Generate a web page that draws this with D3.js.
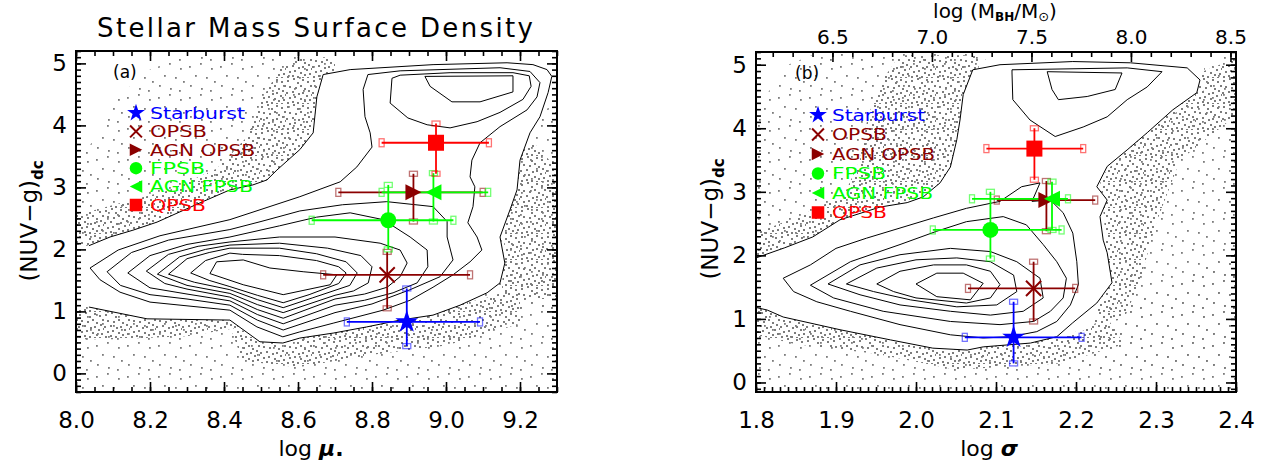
<!DOCTYPE html>
<html>
<head>
<meta charset="utf-8">
<script src="https://cdnjs.cloudflare.com/ajax/libs/d3/7.8.5/d3.min.js"></script>
<style>
  body { margin: 0; background: #fff; }
  text { font-family: "DejaVu Sans", sans-serif; }
</style>
</head>
<body>
<script>
const WIDTH = 1264, HEIGHT = 464;
const FONT = '"DejaVu Sans", sans-serif';

// ---- tick labels ----
const muTicks = [8.0, 8.2, 8.4, 8.6, 8.8, 9.0, 9.2];
const colourTicks = [0, 1, 2, 3, 4, 5];
const sigmaTicks = [1.8, 1.9, 2.0, 2.1, 2.2, 2.3, 2.4];
const mbhTicks = [6.5, 7.0, 7.5, 8.0, 8.5];

// ---- classes ----
const classes = ['Starburst', 'OPSB', 'AGN OPSB', 'FPSB', 'AGN FPSB', 'QPSB'];
const classColors = ['#0000ff', '#8b0000', '#8b0000', '#00ff00', '#00ff00', '#ff0000'];
const classSymbols = ['star', 'cross', 'triR', 'circle', 'triL', 'square'];

// ---- panel (a): log mu* vs (NUV-g)dc ----
const muVal = [8.894, 8.841, 8.912, 8.844, 8.966, 8.973];
const muLo  = [8.732, 8.668, 8.709, 8.637, 8.826, 8.826];
const muHi  = [9.092, 9.065, 9.099, 9.020, 9.114, 9.116];
const colA   = [0.83, 1.59, 2.92, 2.47, 2.92, 3.72];
const colALo = [0.44, 1.05, 2.45, 2.00, 2.45, 3.22];
const colAHi = [1.37, 1.96, 3.22, 3.04, 3.23, 4.03];

// ---- panel (b): log sigma vs (NUV-g)dc ----
const sigVal = [2.122, 2.147, 2.163, 2.093, 2.170, 2.148];
const sigLo  = [2.061, 2.065, 2.101, 2.021, 2.070, 2.088];
const sigHi  = [2.207, 2.199, 2.224, 2.182, 2.190, 2.209];
const colB   = [0.71, 1.48, 2.87, 2.40, 2.89, 3.68];
const colBLo = [0.30, 0.96, 2.38, 1.95, 2.40, 3.19];
const colBHi = [1.27, 1.90, 3.17, 3.00, 3.16, 4.00];

// contours of the parent sample, first one is the outermost (open at left edge)
const contourA = [
  [[8.035,2.06],[8.092,2.20],[8.154,2.31],[8.219,2.44],[8.335,2.75],[8.416,2.96],[8.478,3.04],[8.516,3.12],[8.543,3.28],[8.605,3.61],[8.641,3.88],[8.651,4.46],[8.668,4.82],[8.741,4.90],[8.965,4.98],[9.165,5.01],[9.235,4.98],[9.273,4.90],[9.286,4.79],[9.276,4.53],[9.254,4.14],[9.227,3.88],[9.200,3.44],[9.192,2.96],[9.173,2.64],[9.146,2.20],[9.159,1.78],[9.146,1.46],[9.111,1.30],[9.038,1.10],[8.965,0.94],[8.876,0.86],[8.786,0.75],[8.695,0.65],[8.605,0.57],[8.559,0.49],[8.497,0.51],[8.416,0.86],[8.192,0.88],[8.035,1.07]],
  [[8.038,1.70],[8.114,1.99],[8.227,2.22],[8.416,2.48],[8.605,2.85],[8.714,3.09],[8.759,3.33],[8.800,3.65],[8.795,3.88],[8.781,4.14],[8.776,4.58],[8.789,4.82],[8.876,4.88],[9.146,4.93],[9.227,4.87],[9.254,4.69],[9.246,4.46],[9.219,4.25],[9.146,3.98],[9.092,3.72],[9.070,3.44],[9.065,3.17],[9.078,3.01],[9.073,2.69],[9.059,2.43],[9.084,2.20],[9.097,1.99],[9.065,1.80],[9.019,1.59],[8.965,1.39],[8.903,1.18],[8.830,1.02],[8.695,0.81],[8.605,0.67],[8.559,0.59],[8.489,0.75],[8.416,1.02],[8.200,1.15],[8.119,1.31],[8.065,1.51]],
  [[8.854,4.76],[8.849,4.36],[8.897,4.12],[8.949,4.01],[9.011,3.96],[9.084,4.06],[9.146,4.21],[9.208,4.42],[9.230,4.63],[9.225,4.80],[9.181,4.85],[9.011,4.85],[8.876,4.81]],
  [[8.943,4.79],[8.957,4.63],[9.016,4.38],[9.092,4.38],[9.181,4.54],[9.181,4.80]],
  [[8.084,1.64],[8.15,1.95],[8.25,2.15],[8.416,2.32],[8.5,2.45],[8.605,2.62],[8.72,2.72],[8.84,2.77],[8.965,2.69],[9.003,2.45],[9.003,2.20],[9.019,1.83],[8.984,1.56],[8.903,1.35],[8.80,1.12],[8.70,0.98],[8.56,0.70],[8.49,0.86],[8.416,1.10],[8.3,1.20],[8.2,1.27],[8.12,1.42]],
  [[8.14,1.62],[8.2,1.9],[8.3,2.08],[8.416,2.20],[8.55,2.38],[8.65,2.52],[8.741,2.59],[8.83,2.48],[8.903,2.20],[8.949,1.99],[8.951,1.72],[8.922,1.46],[8.857,1.30],[8.78,1.18],[8.70,1.10],[8.56,0.80],[8.49,0.95],[8.416,1.17],[8.3,1.28],[8.2,1.38]],
  [[8.19,1.65],[8.25,1.92],[8.33,2.05],[8.416,2.12],[8.55,2.20],[8.70,2.20],[8.822,2.10],[8.876,1.99],[8.895,1.78],[8.876,1.56],[8.841,1.39],[8.78,1.28],[8.70,1.20],[8.56,0.89],[8.49,1.03],[8.416,1.23],[8.3,1.36],[8.24,1.45]],
  [[8.22,1.60],[8.28,1.88],[8.35,2.0],[8.416,2.07],[8.55,2.10],[8.68,2.02],[8.77,1.90],[8.80,1.72],[8.79,1.46],[8.75,1.33],[8.70,1.26],[8.56,0.98],[8.49,1.11],[8.416,1.29],[8.3,1.42]],
  [[8.25,1.60],[8.3,1.85],[8.36,1.95],[8.416,2.02],[8.55,2.02],[8.65,1.93],[8.73,1.80],[8.76,1.62],[8.74,1.42],[8.64,1.22],[8.56,1.06],[8.49,1.19],[8.416,1.35],[8.32,1.47]],
  [[8.31,1.62],[8.35,1.82],[8.416,1.94],[8.45,1.92],[8.55,1.90],[8.65,1.82],[8.71,1.72],[8.73,1.62],[8.71,1.45],[8.63,1.27],[8.56,1.14],[8.49,1.26],[8.416,1.40],[8.36,1.50]],
  [[8.362,1.61],[8.380,1.80],[8.452,1.83],[8.524,1.70],[8.614,1.64],[8.705,1.59],[8.687,1.43],[8.56,1.27],[8.452,1.43]]
];

const contourB = [
  [[1.80,1.96],[1.836,2.12],[1.871,2.29],[1.905,2.56],[1.955,2.76],[1.989,2.83],[2.009,2.92],[2.03,3.14],[2.043,3.39],[2.051,3.82],[2.055,4.13],[2.059,4.53],[2.071,4.92],[2.105,5.0],[2.196,5.05],[2.268,5.03],[2.339,4.95],[2.355,4.76],[2.351,4.56],[2.321,4.29],[2.289,3.93],[2.264,3.66],[2.239,3.40],[2.226,3.08],[2.239,2.87],[2.23,2.61],[2.234,2.24],[2.239,2.04],[2.245,1.57],[2.226,1.25],[2.196,0.94],[2.176,0.72],[2.143,0.62],[2.084,0.56],[2.064,0.51],[2.021,0.54],[1.968,0.67],[1.905,0.83],[1.834,1.03],[1.814,1.14],[1.80,1.18]],
  [[1.834,1.64],[1.868,1.85],[1.90,2.11],[1.938,2.27],[1.98,2.43],[2.022,2.59],[2.063,2.74],[2.105,2.85],[2.132,3.08],[2.155,3.14],[2.145,2.85],[2.168,2.87],[2.184,2.67],[2.196,2.35],[2.201,1.90],[2.203,1.54],[2.193,1.22],[2.176,0.96],[2.151,0.80],[2.118,0.72],[2.084,0.70],[2.043,0.75],[1.98,0.91],[1.918,1.12],[1.876,1.27],[1.847,1.43]],
  [[1.868,1.53],[1.918,1.90],[1.98,2.17],[2.026,2.38],[2.063,2.53],[2.109,2.61],[2.138,2.48],[2.159,2.17],[2.176,1.90],[2.188,1.64],[2.184,1.33],[2.168,1.12],[2.147,0.96],[2.105,0.91],[2.043,0.96],[1.959,1.12],[1.897,1.33]],
  [[1.890,1.55],[1.930,1.85],[1.98,2.01],[2.043,2.11],[2.093,2.06],[2.126,1.90],[2.155,1.64],[2.159,1.33],[2.134,1.12],[2.093,1.06],[2.043,1.12],[1.98,1.22],[1.93,1.38]],
  [[1.913,1.55],[1.951,1.80],[2.0,1.93],[2.051,1.96],[2.093,1.90],[2.122,1.69],[2.126,1.43],[2.101,1.22],[2.051,1.19],[1.993,1.30],[1.947,1.43]],
  [[1.951,1.55],[1.98,1.75],[2.022,1.85],[2.063,1.85],[2.093,1.75],[2.105,1.54],[2.093,1.33],[2.063,1.25],[2.0,1.33],[1.972,1.43]],
  [[2.0,1.55],[2.026,1.72],[2.059,1.72],[2.084,1.56],[2.068,1.30],[2.026,1.35]],
  [[2.12,4.87],[2.121,4.45],[2.1425,4.13],[2.174,3.87],[2.209,4.02],[2.239,4.18],[2.264,4.45],[2.289,4.65],[2.3075,4.89],[2.264,4.95],[2.12,4.92]],
  [[2.164,4.89],[2.17,4.61],[2.178,4.45],[2.214,4.50],[2.249,4.61],[2.2575,4.87]]
];

// regions covered by individual galaxies outside the outer contour
const sparseA = [
  [[8.0,2.0],[8.0,3.3],[8.06,3.9],[8.12,4.5],[8.2,4.9],[8.3,5.12],[8.66,5.12],[8.7,4.9],[8.5,2.8],[8.2,2.3]],
  [[8.0,-0.3],[8.0,1.3],[8.4,1.1],[8.7,0.8],[9.0,1.1],[9.15,1.5],[9.3,1.6],[9.3,-0.3]],
  [[9.12,1.0],[9.15,3.0],[9.2,3.8],[9.26,4.2],[9.3,4.4],[9.3,1.0]]
];
const denseA = [
  [[8.0,2.0],[8.0,2.55],[8.12,2.75],[8.25,2.95],[8.38,3.3],[8.46,3.8],[8.5,4.4],[8.55,4.9],[8.6,5.1],[8.7,5.1],[8.7,3.0],[8.4,2.7],[8.15,2.2]],
  [[8.0,0.55],[8.0,1.2],[8.45,1.05],[8.45,0.75],[8.3,0.6],[8.1,0.55]],
  [[8.45,0.2],[8.42,0.7],[8.6,0.65],[8.9,0.95],[9.1,1.2],[9.2,1.4],[9.2,0.8],[9.0,0.45],[8.8,0.3],[8.6,0.1]],
  [[9.15,1.2],[9.17,3.6],[9.24,3.7],[9.3,3.3],[9.3,1.2]]
];
const sparseB = [
  [[1.8,1.9],[1.8,4.3],[1.84,5.0],[1.88,5.2],[2.09,5.2],[2.07,4.5],[2.06,3.5],[1.95,2.6],[1.85,2.0]],
  [[1.8,-0.15],[1.8,1.3],[1.95,0.9],[2.1,0.6],[2.2,0.75],[2.3,1.5],[2.4,2.0],[2.4,-0.15]],
  [[2.2,0.2],[2.25,1.5],[2.25,2.5],[2.25,3.5],[2.3,4.0],[2.36,4.6],[2.36,5.0],[2.4,5.2],[2.4,0.2]]
];
const denseB = [
  [[1.8,1.95],[1.8,2.35],[1.86,2.65],[1.91,2.95],[1.93,3.5],[1.94,4.2],[1.96,4.8],[1.98,5.15],[2.08,5.15],[2.075,4.6],[2.06,3.6],[2.03,3.0],[1.9,2.45]],
  [[1.8,0.75],[1.8,1.3],[1.9,1.0],[2.0,0.8],[2.1,0.6],[2.18,0.7],[2.24,1.0],[2.26,0.6],[2.18,0.3],[2.05,0.2],[1.95,0.45],[1.85,0.6]],
  [[2.22,0.9],[2.24,1.6],[2.235,2.6],[2.23,3.2],[2.27,3.8],[2.33,4.4],[2.36,4.9],[2.4,5.1],[2.4,4.2],[2.33,3.5],[2.3,2.5],[2.28,1.6],[2.26,1.0]]
];

// M-sigma relation (Tremaine et al. 2002) for the top axis
function mbhFromSigma(s) { return 8.13 + 4.02 * (s - Math.log10(200)); }

const svg = d3.select('body').append('svg')
  .attr('width', WIDTH).attr('height', HEIGHT)
  .style('background', '#fff');

const defs = svg.append('defs');

// dot textures used for the individual galaxies
function dotPattern(id, tile, size, dots) {
  const p = defs.append('pattern').attr('id', id)
    .attr('patternUnits', 'userSpaceOnUse')
    .attr('width', tile).attr('height', tile);
  p.selectAll('rect').data(dots).enter().append('rect')
    .attr('x', d => d[0]).attr('y', d => d[1])
    .attr('width', size).attr('height', size)
    .attr('fill', '#7c7c7c');
}
dotPattern('dotsDense', 26, 2, [
  [1,2],[7,0],[11,4],[16,1],[21,3],[24,7],
  [3,8],[9,9],[14,7],[18,10],[22,12],
  [0,14],[6,13],[12,15],[16,14],[20,17],[25,16],
  [3,19],[8,18],[14,20],[18,22],[23,21],
  [1,24],[6,23],[11,24],[16,25],[21,25]
]);
dotPattern('dotsSparse', 31, 1.8, [[3,4],[14,1],[25,6],[9,13],[20,15],[28,19],[4,23],[15,26],[24,28]]);

function drawMarker(g, sym, cx, cy, s, color) {
  const h = s / 2;
  if (sym === 'star') {
    const r = 0.75 * s;
    g.append('path').attr('d', d3.symbol(d3.symbolStar, r * r / 0.8908130915292852)())
      .attr('transform', `translate(${cx},${cy})`).attr('fill', color);
  } else if (sym === 'square') {
    g.append('rect').attr('x', cx - h).attr('y', cy - h)
      .attr('width', s).attr('height', s).attr('fill', color);
  } else if (sym === 'circle') {
    g.append('circle').attr('cx', cx).attr('cy', cy).attr('r', h).attr('fill', color);
  } else if (sym === 'triR') {
    g.append('path').attr('d', `M${cx - h},${cy - h}L${cx + h},${cy}L${cx - h},${cy + h}Z`).attr('fill', color);
  } else if (sym === 'triL') {
    g.append('path').attr('d', `M${cx + h},${cy - h}L${cx - h},${cy}L${cx + h},${cy + h}Z`).attr('fill', color);
  } else if (sym === 'cross') {
    const k = h * 0.95;
    g.append('path').attr('d', `M${cx - k},${cy - k}L${cx + k},${cy + k}M${cx - k},${cy + k}L${cx + k},${cy - k}`)
      .attr('stroke', color).attr('stroke-width', 2).attr('fill', 'none');
  }
}

function addAxis(g, axis, tf, fontSize) {
  const a = g.append('g').attr('transform', tf).call(axis);
  a.select('.domain').remove();
  a.attr('font-family', FONT).attr('font-size', fontSize);
  a.selectAll('line').attr('stroke', '#000').attr('stroke-width', 1.6);
  a.selectAll('text').attr('fill', '#000');
  return a;
}

function drawPanel(cfg) {
  const { x, y, id } = cfg;
  const [x0, x1] = x.range();
  const [y0, y1] = y.range(); // y0 bottom, y1 top
  const g = svg.append('g');

  defs.append('clipPath').attr('id', 'clip' + id)
    .append('rect').attr('x', x0).attr('y', y1).attr('width', x1 - x0).attr('height', y0 - y1);
  const plot = g.append('g').attr('clip-path', `url(#clip${id})`);

  const poly = d3.line().x(d => x(d[0])).y(d => y(d[1]));

  // individual galaxies
  cfg.sparse.forEach(p => plot.append('path').attr('d', poly(p) + 'Z').attr('fill', 'url(#dotsSparse)'));
  cfg.dense.forEach(p => plot.append('path').attr('d', poly(p) + 'Z').attr('fill', 'url(#dotsDense)'));

  // no points drawn inside the outer contour
  const outer = cfg.contours[0];
  const xMin = x.domain()[0];
  const mask = outer.concat([[xMin, outer[outer.length - 1][1]], [xMin, outer[0][1]]]);
  plot.append('path').attr('d', poly(mask) + 'Z').attr('fill', '#fff');

  // contours
  const closed = d3.line().x(d => x(d[0])).y(d => y(d[1])).curve(d3.curveLinearClosed);
  cfg.contours.forEach((c, i) => {
    plot.append('path').attr('d', i === 0 ? poly(c) : closed(c))
      .attr('fill', 'none').attr('stroke', '#000').attr('stroke-width', 1);
  });

  // error bars and markers
  classes.forEach((name, i) => {
    const col = classColors[i];
    const cx = x(cfg.xv[i]), cy = y(cfg.yv[i]);
    const eb = plot.append('g');
    eb.append('line').attr('x1', x(cfg.xlo[i])).attr('x2', x(cfg.xhi[i]))
      .attr('y1', cy).attr('y2', cy).attr('stroke', col).attr('stroke-width', 1.8);
    eb.append('line').attr('x1', cx).attr('x2', cx)
      .attr('y1', y(cfg.ylo[i])).attr('y2', y(cfg.yhi[i])).attr('stroke', col).attr('stroke-width', 1.8);
    [cfg.xlo[i], cfg.xhi[i]].forEach(v => {
      eb.append('rect').attr('x', x(v) - 2.5).attr('y', cy - 4).attr('width', 5).attr('height', 8)
        .attr('fill', 'none').attr('stroke', col).attr('stroke-opacity', 0.55).attr('stroke-width', 1.3);
    });
    [cfg.ylo[i], cfg.yhi[i]].forEach(v => {
      eb.append('rect').attr('x', cx - 4).attr('y', y(v) - 2.5).attr('width', 8).attr('height', 5)
        .attr('fill', 'none').attr('stroke', col).attr('stroke-opacity', 0.55).attr('stroke-width', 1.3);
    });
  });
  classes.forEach((name, i) => {
    drawMarker(plot, classSymbols[i], x(cfg.xv[i]), y(cfg.yv[i]), 16, classColors[i]);
  });

  // legend
  const lg = g.append('g');
  classes.forEach((name, i) => {
    const ly = y1 + cfg.legendTop + i * cfg.legendStep;
    drawMarker(lg, classSymbols[i], x0 + cfg.legendSym, ly, 12.5, classColors[i]);
    lg.append('text').attr('x', x0 + cfg.legendText).attr('y', ly).attr('dy', '0.36em')
      .attr('font-size', 16).attr('fill', classColors[i])
      .attr('textLength', cfg.legendWidths[i]).attr('lengthAdjust', 'spacingAndGlyphs')
      .text(name);
  });

  g.append('text').attr('x', x0 + cfg.tagX).attr('y', y1 + 27)
    .attr('font-size', 17).attr('fill', '#000').text(cfg.tag);

  // axes
  addAxis(g, d3.axisBottom(x).tickValues(cfg.xMinor).tickSize(-5).tickFormat(''), `translate(0,${y0})`, 10);
  addAxis(g, d3.axisBottom(x).tickValues(cfg.xTicks).tickSize(-10).tickPadding(20).tickFormat(d3.format('.1f')), `translate(0,${y0})`, 23);
  addAxis(g, d3.axisLeft(y).tickValues(cfg.yMinor).tickSize(-5).tickFormat(''), `translate(${x0},0)`, 10);
  addAxis(g, d3.axisLeft(y).tickValues(colourTicks).tickSize(-10).tickPadding(9).tickFormat(d3.format('d')), `translate(${x0},0)`, 23);
  addAxis(g, d3.axisRight(y).tickValues(cfg.yMinor).tickSize(-5).tickFormat(''), `translate(${x1},0)`, 10);
  addAxis(g, d3.axisRight(y).tickValues(colourTicks).tickSize(-10).tickFormat(''), `translate(${x1},0)`, 10);
  if (cfg.top) {
    addAxis(g, d3.axisTop(cfg.top).tickValues(cfg.topMinor).tickSize(-5).tickFormat(''), `translate(0,${y1})`, 10);
    addAxis(g, d3.axisTop(cfg.top).tickValues(cfg.topTicks).tickSize(-10).tickPadding(8).tickFormat(d3.format('.1f')), `translate(0,${y1})`, 20);
  } else {
    addAxis(g, d3.axisTop(x).tickValues(cfg.xMinor).tickSize(-5).tickFormat(''), `translate(0,${y1})`, 10);
    addAxis(g, d3.axisTop(x).tickValues(cfg.xTicks).tickSize(-10).tickFormat(''), `translate(0,${y1})`, 10);
  }

  g.append('rect').attr('x', x0).attr('y', y1).attr('width', x1 - x0).attr('height', y0 - y1)
    .attr('fill', 'none').attr('stroke', '#000').attr('stroke-width', 2);

  // y title
  const yt = g.append('text')
    .attr('transform', `translate(${cfg.yTitleX},${cfg.yTitleY}) rotate(-90)`)
    .attr('text-anchor', 'middle').attr('font-size', 23).attr('fill', '#000');
  yt.append('tspan').text('(NUV\u2212g)');
  yt.append('tspan').attr('dy', 6).attr('font-size', 15).attr('font-weight', 'bold').text('dc');

  // x title
  const xt = g.append('text').attr('x', cfg.xTitleX).attr('y', 456)
    .attr('text-anchor', 'middle').attr('font-size', 22).attr('fill', '#000');
  xt.append('tspan').text('log ');
  xt.append('tspan').attr('font-weight', 'bold').attr('font-style', 'italic').text(cfg.xSymbol);
  if (cfg.xSuffix) xt.append('tspan').attr('font-weight', 'bold').text(cfg.xSuffix);
  return g;
}

// panel (a)
drawPanel({
  id: 'a', tag: '(a)', tagX: 37,
  x: d3.scaleLinear().domain([8.0, 9.3]).range([76, 557]),
  y: d3.scaleLinear().domain([-0.3, 5.2]).range([392, 51]),
  xTicks: muTicks, xMinor: d3.range(160, 187).map(k => k / 20),
  yMinor: d3.range(-3, 53).map(k => k / 10),
  xv: muVal, xlo: muLo, xhi: muHi, yv: colA, ylo: colALo, yhi: colAHi,
  contours: contourA, sparse: sparseA, dense: denseA,
  legendSym: 60, legendText: 74, legendTop: 62, legendStep: 18.4,
  legendWidths: [95, 57, 105, 55, 103, 56],
  yTitleX: 37, yTitleY: 221, xTitleX: 311, xSymbol: '\u03bc', xSuffix: '.'
});

// panel (b)
const xB = d3.scaleLinear().domain([1.8, 2.4]).range([756, 1236]);
drawPanel({
  id: 'b', tag: '(b)', tagX: 39,
  x: xB,
  y: d3.scaleLinear().domain([-0.15, 5.2]).range([392, 52]),
  xTicks: sigmaTicks, xMinor: d3.range(180, 241).map(k => k / 100),
  yMinor: d3.range(-1, 53).map(k => k / 10),
  top: d3.scaleLinear().domain([mbhFromSigma(1.8), mbhFromSigma(2.4)]).range([756, 1236]),
  topTicks: mbhTicks, topMinor: d3.range(62, 86).map(k => k / 10),
  xv: sigVal, xlo: sigLo, xhi: sigHi, yv: colB, ylo: colBLo, yhi: colBHi,
  contours: contourB, sparse: sparseB, dense: denseB,
  legendSym: 62, legendText: 76, legendTop: 63, legendStep: 19.5,
  legendWidths: [93, 55, 103, 54, 101, 55],
  yTitleX: 718, yTitleY: 219, xTitleX: 989, xSymbol: '\u03c3', xSuffix: ''
});

// title of panel (a)
svg.append('text').attr('x', 315).attr('y', 37).attr('text-anchor', 'middle')
  .attr('font-size', 26).attr('fill', '#000')
  .attr('textLength', 436).attr('lengthAdjust', 'spacing')
  .text('Stellar Mass Surface Density');

// top axis title of panel (b)
const tt = svg.append('text').attr('x', 995).attr('y', 18).attr('text-anchor', 'middle')
  .attr('font-size', 20).attr('fill', '#000');
tt.append('tspan').text('log (M');
tt.append('tspan').attr('dy', 3).attr('font-size', 12).attr('font-weight', 'bold').text('BH');
tt.append('tspan').attr('dy', -3).text('/M');
tt.append('tspan').attr('dy', 3).attr('font-size', 13).text('\u2299');
tt.append('tspan').attr('dy', -3).text(')');
</script>
</body>
</html>
